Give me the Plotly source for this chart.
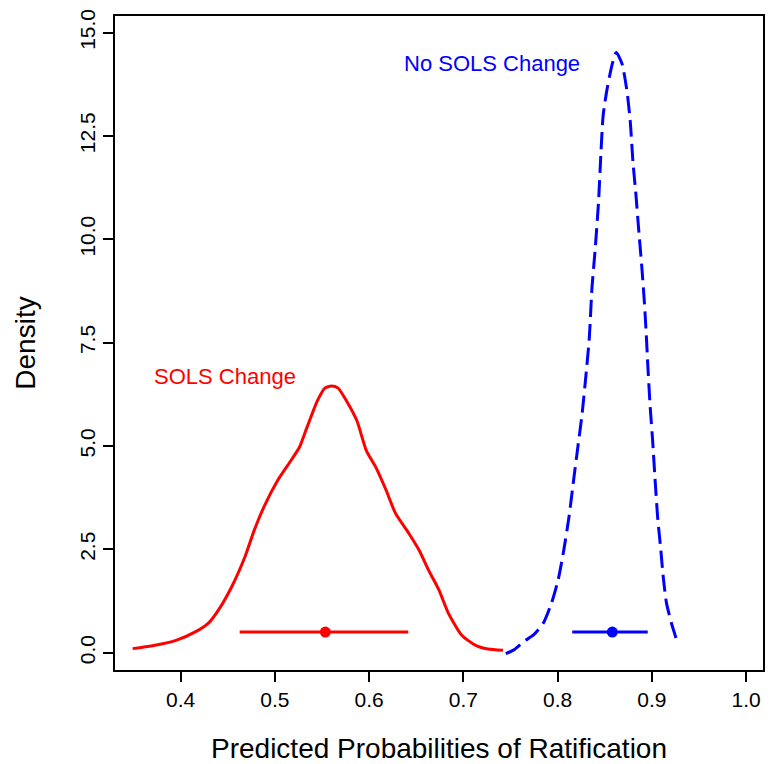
import plotly.graph_objects as go

# Density curve: SOLS Change (red, solid)
red_x = [0.349, 0.370, 0.395, 0.416, 0.430, 0.440, 0.454, 0.468, 0.478, 0.489,
         0.503, 0.517, 0.526, 0.534, 0.545, 0.553, 0.560, 0.567, 0.576, 0.587,
         0.597, 0.607, 0.618, 0.628, 0.642, 0.653, 0.663, 0.674, 0.684, 0.698,
         0.712, 0.726, 0.742]
red_y = [0.10, 0.17, 0.30, 0.51, 0.73, 1.03, 1.59, 2.31, 2.96, 3.56,
         4.17, 4.65, 4.97, 5.45, 6.09, 6.40, 6.45, 6.40, 6.09, 5.61,
         4.89, 4.49, 3.93, 3.37, 2.89, 2.48, 2.00, 1.52, 0.96, 0.43,
         0.19, 0.09, 0.06]

# Density curve: No SOLS Change (blue, dashed)
blue_x = [0.745, 0.7535, 0.764, 0.7744, 0.7849, 0.7935, 0.8005, 0.8065, 0.8120,
          0.8169, 0.8214, 0.8259, 0.8301, 0.8336, 0.8364, 0.8399, 0.8434, 0.8458,
          0.8483, 0.8528, 0.8580, 0.8622, 0.8684, 0.8737, 0.8771, 0.8799, 0.8831,
          0.8859, 0.8894, 0.8922, 0.8943, 0.8956, 0.8980, 0.9008, 0.9032, 0.9061,
          0.9095, 0.9120, 0.9155, 0.9207, 0.9235, 0.9259]
blue_y = [-0.02, 0.07, 0.27, 0.43, 0.72, 1.20, 1.76, 2.48, 3.28,
          4.17, 4.97, 5.77, 6.73, 7.62, 8.82, 9.78, 10.91, 12.03,
          13.00, 13.68, 14.24, 14.52, 14.24, 13.56, 12.83, 11.87, 11.07,
          10.26, 9.30, 8.42, 7.58, 6.98, 6.01, 5.13, 4.25, 3.28,
          2.48, 1.84, 1.20, 0.72, 0.51, 0.33]

# Point estimates and intervals
red_ci = [0.4626, 0.6415]
red_est = 0.5535
blue_ci = [0.8155, 0.8956]
blue_est = 0.858
ci_y = 0.5

x_ticks = [0.4, 0.5, 0.6, 0.7, 0.8, 0.9, 1.0]
y_ticks = [0.0, 2.5, 5.0, 7.5, 10.0, 12.5, 15.0]

RED = "#FF0000"
BLUE = "#0000FF"
FONT = "Liberation Sans, Arial, Helvetica, sans-serif"

fig = go.Figure()
fig.add_trace(go.Scatter(x=red_x, y=red_y, mode="lines",
                         line=dict(color=RED, width=3, shape="spline", smoothing=0.6),
                         showlegend=False, hoverinfo="skip"))
fig.add_trace(go.Scatter(x=blue_x, y=blue_y, mode="lines",
                         line=dict(color=BLUE, width=3, dash="17px,7px",
                                   shape="spline", smoothing=0.6),
                         showlegend=False, hoverinfo="skip"))
fig.add_trace(go.Scatter(x=red_ci, y=[ci_y, ci_y], mode="lines",
                         line=dict(color=RED, width=3), showlegend=False))
fig.add_trace(go.Scatter(x=[red_est], y=[ci_y], mode="markers",
                         marker=dict(color=RED, size=11), showlegend=False))
fig.add_trace(go.Scatter(x=blue_ci, y=[ci_y, ci_y], mode="lines",
                         line=dict(color=BLUE, width=3), showlegend=False))
fig.add_trace(go.Scatter(x=[blue_est], y=[ci_y], mode="markers",
                         marker=dict(color=BLUE, size=11), showlegend=False))

fig.add_annotation(x=0.447, y=6.68, text="SOLS Change", showarrow=False,
                   font=dict(color=RED, size=22, family=FONT))
fig.add_annotation(x=0.7308, y=14.25, text="No SOLS Change", showarrow=False,
                   font=dict(color=BLUE, size=22, family=FONT))

# page body has an 8px margin, so the figure is shrunk and offset accordingly
fig.update_layout(
    width=758, height=756, autosize=False,
    margin=dict(l=107, r=1, t=5, b=94),
    paper_bgcolor="white", plot_bgcolor="white",
    font=dict(family=FONT, color="black"),
)
fig.update_xaxes(
    range=[0.3303, 1.0179], tickvals=x_ticks, ticktext=[f"{v:.1f}" for v in x_ticks],
    showgrid=False, zeroline=False, showline=True, linecolor="black", linewidth=2,
    mirror=True, ticks="outside", ticklen=10, tickwidth=2, tickcolor="black",
    ticklabeloverflow="allow",
    tickfont=dict(size=21, family=FONT, color="black"),
    title=dict(text="Predicted Probabilities of Ratification",
               font=dict(size=28, family=FONT, color="black"), standoff=31),
)
fig.update_yaxes(
    range=[-0.417, 15.40], tickvals=y_ticks, ticktext=[f"{v:.1f}" for v in y_ticks],
    showgrid=False, zeroline=False, showline=True, linecolor="black", linewidth=2,
    mirror=True, ticks="outside", ticklen=10, tickwidth=2, tickcolor="black",
    tickangle=-90, ticklabeloverflow="allow",
    tickfont=dict(size=21, family=FONT, color="black"),
    title=dict(text="Density", font=dict(size=28, family=FONT, color="black"),
               standoff=32),
)

fig.write_html("out.html")
